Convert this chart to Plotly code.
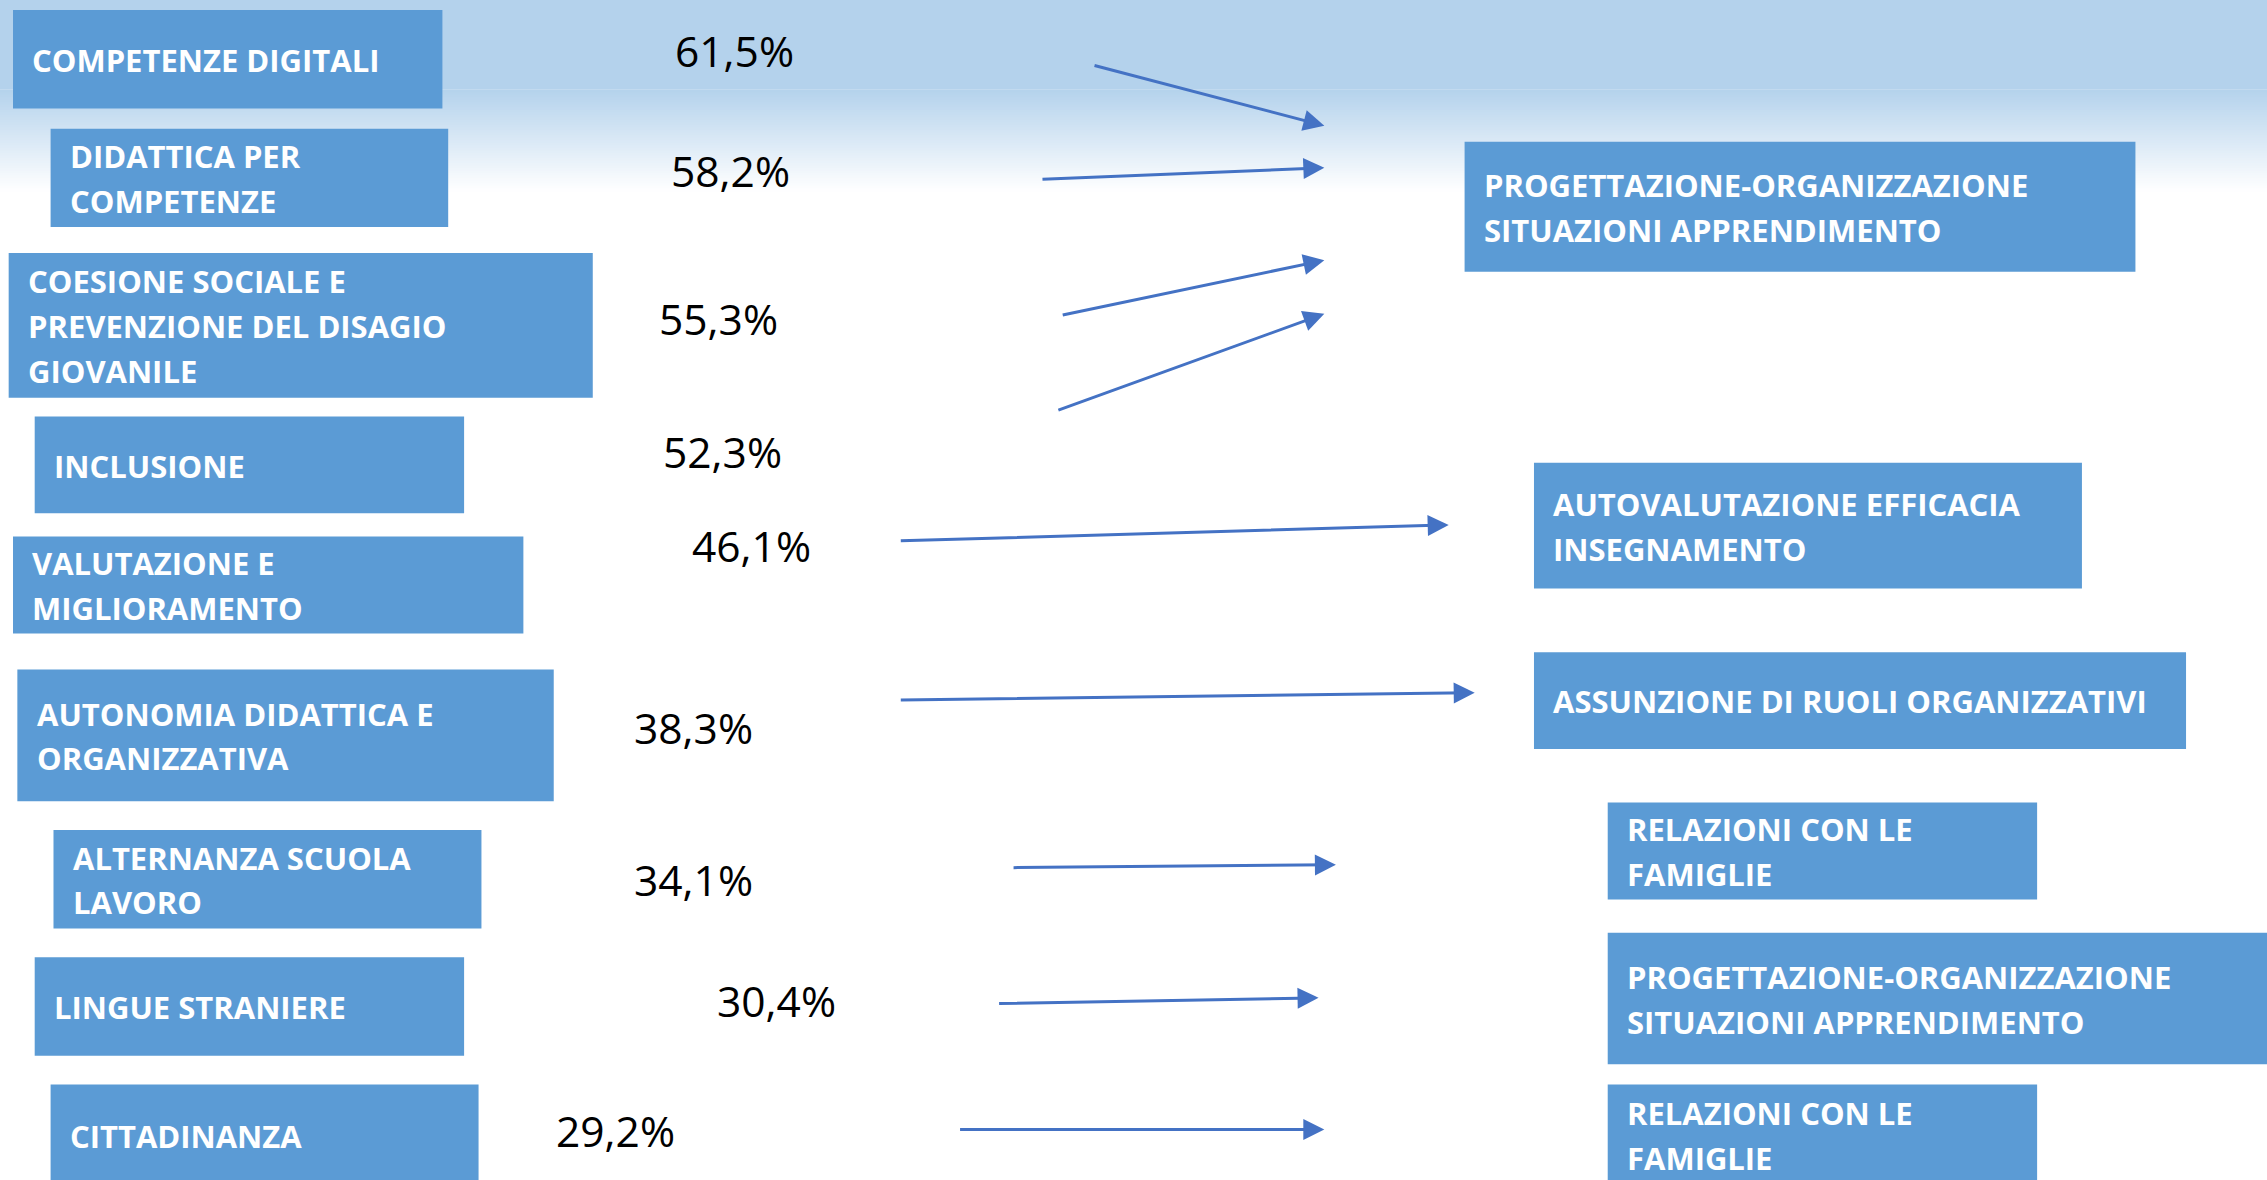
import plotly.graph_objects as go

# ---------------- data ----------------
competenze = [
    ["COMPETENZE DIGITALI"],
    ["DIDATTICA PER", "COMPETENZE"],
    ["COESIONE SOCIALE E", "PREVENZIONE DEL DISAGIO", "GIOVANILE"],
    ["INCLUSIONE"],
    ["VALUTAZIONE E", "MIGLIORAMENTO"],
    ["AUTONOMIA DIDATTICA E", "ORGANIZZATIVA"],
    ["ALTERNANZA SCUOLA", "LAVORO"],
    ["LINGUE STRANIERE"],
    ["CITTADINANZA"],
]
percentuali = [61.5, 58.2, 55.3, 52.3, 46.1, 38.3, 34.1, 30.4, 29.2]

ambiti = [
    ["PROGETTAZIONE-ORGANIZZAZIONE", "SITUAZIONI APPRENDIMENTO"],
    ["AUTOVALUTAZIONE EFFICACIA", "INSEGNAMENTO"],
    ["ASSUNZIONE DI RUOLI ORGANIZZATIVI"],
    ["RELAZIONI CON LE", "FAMIGLIE"],
    ["PROGETTAZIONE-ORGANIZZAZIONE", "SITUAZIONI APPRENDIMENTO"],
    ["RELAZIONI CON LE", "FAMIGLIE"],
]

# ---------------- layout (display units 1568 x 816) ----------------
W, H = 1568, 816
left_boxes = [(9, 7, 306, 75), (35, 89, 310, 157), (6, 175, 410, 275), (24, 288, 321, 355),
              (9, 371, 362, 438), (12, 463, 383, 554), (37, 574, 333, 642), (24, 662, 321, 730),
              (35, 750, 331, 820)]
pct_pos = [(508, 35), (505, 118), (497, 220), (500, 312), (520, 377), (480, 503),
           (480, 608), (537, 692), (426, 782)]
arrows = [((756, 45), (916, 87)), ((720, 124), (916, 116)), ((734, 218), (916, 180)),
          ((731, 284), (916, 217)), ((622, 374), (1002, 363)), ((622, 484), (1020, 479)),
          ((700, 600), (924, 598)), ((690, 694), (912, 690)), ((663, 781), (916, 781))]
right_boxes = [(1013, 98, 1477, 188), (1061, 320, 1440, 407), (1061, 451, 1512, 518),
               (1112, 555, 1409, 622), (1112, 645, 1572, 736), (1112, 750, 1409, 820)]

BOX = "#5B9BD5"
ARROW = "#4472C4"
TOP = (180, 210, 236)
PAD = 12
LINE_H = 31
LABEL_FONT = dict(family="Open Sans", size=31, color="white")
PCT_FONT = dict(family="Open Sans", size=42.5, color="black")

fig = go.Figure()
shapes = []
annotations = []

# background gradient
shapes.append(dict(type="rect", xref="x", yref="y", x0=-5, x1=W + 5, y0=-5, y1=62,
                   fillcolor="rgb(%d,%d,%d)" % TOP, line=dict(width=0), layer="below"))
steps = 40
g0, g1 = 62, 132
for i in range(steps):
    t = (i + 0.5) / steps
    c = tuple(int(round(TOP[k] + (255 - TOP[k]) * t)) for k in range(3))
    ya = g0 + (g1 - g0) * i / steps
    yb = g0 + (g1 - g0) * (i + 1) / steps + 0.6
    shapes.append(dict(type="rect", xref="x", yref="y", x0=-5, x1=W + 5, y0=ya, y1=yb,
                       fillcolor="rgb(%d,%d,%d)" % c, line=dict(width=0), layer="below"))


def add_box(box, lines):
    x0, y0, x1, y1 = box
    shapes.append(dict(type="rect", xref="x", yref="y", x0=x0, x1=x1, y0=y0, y1=y1,
                       fillcolor=BOX, line=dict(width=0), layer="below"))
    yc = (y0 + min(y1, 820)) / 2 + 0.5
    n = len(lines)
    for j, ln in enumerate(lines):
        y = yc + (j - (n - 1) / 2) * LINE_H
        annotations.append(dict(x=x0 + PAD, y=y, xref="x", yref="y", text="<b>%s</b>" % ln,
                                showarrow=False, xanchor="left", yanchor="middle",
                                font=LABEL_FONT))


for box, lines in zip(left_boxes, competenze):
    add_box(box, lines)
for box, lines in zip(right_boxes, ambiti):
    add_box(box, lines)

for (x, y), v in zip(pct_pos, percentuali):
    annotations.append(dict(x=x, y=y, xref="x", yref="y",
                            text=("%.1f" % v).replace(".", ",") + "%",
                            showarrow=False, xanchor="center", yanchor="middle", font=PCT_FONT))

for (sx, sy), (ex, ey) in arrows:
    annotations.append(dict(x=ex, y=ey, ax=sx, ay=sy, xref="x", yref="y", axref="x", ayref="y",
                            text="", showarrow=True, arrowhead=2, arrowsize=1.4, arrowwidth=3,
                            arrowcolor=ARROW, standoff=0, startstandoff=0))

fig.update_layout(
    width=2267, height=1180,
    margin=dict(l=0, r=0, t=0, b=0),
    paper_bgcolor="white", plot_bgcolor="white",
    xaxis=dict(range=[0, W], visible=False, fixedrange=True),
    yaxis=dict(range=[H, 0], visible=False, fixedrange=True),
    shapes=shapes, annotations=annotations, showlegend=False,
)

fig.write_html("out.html", config={"displayModeBar": False},
               post_script="document.body.style.margin='0';document.body.style.overflow='hidden';")
